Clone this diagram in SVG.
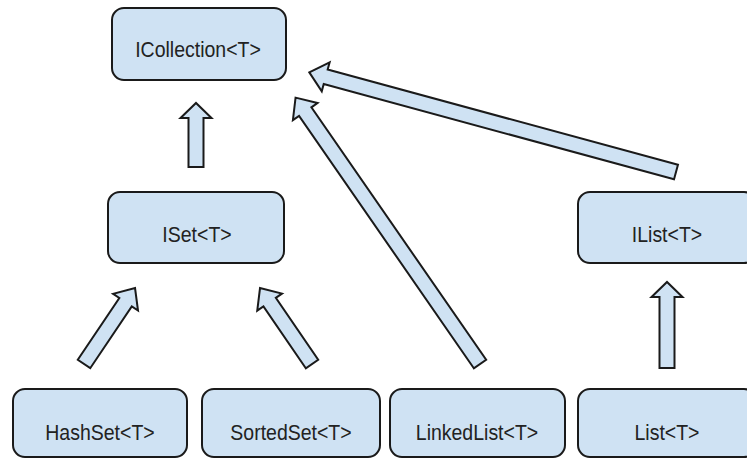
<svg xmlns="http://www.w3.org/2000/svg" width="747" height="460" viewBox="0 0 747 460">
<style>
.box{fill:#cfe2f3;stroke:#1a1a1a;stroke-width:2}
.arr{fill:#cfe2f3;stroke:#1a1a1a;stroke-width:2;stroke-linejoin:miter}
.lbl{font-family:"Liberation Sans",Arial,sans-serif;font-size:19.5px;fill:#222;text-anchor:middle}
</style>
<rect width="747" height="460" fill="#fff"/>
<g id="connectors">
<polygon class="arr" transform="translate(196,167) rotate(-90)" points="0,-7.5 49,-7.5 49,-15.5 64,0 49,15.5 49,7.5 0,7.5"/>
<polygon class="arr" transform="translate(84,364) rotate(-56.1)" points="0,-7.5 74.5,-7.5 74.5,-15 91.5,0 74.5,15 74.5,7.5 0,7.5"/>
<polygon class="arr" transform="translate(312,364) rotate(-124.4)" points="0,-7.5 75,-7.5 75,-15 92,0 75,15 75,7.5 0,7.5"/>
<polygon class="arr" transform="translate(480,364) rotate(-124.7)" points="0,-7.5 307,-7.5 307,-15 324,0 307,15 307,7.5 0,7.5"/>
<polygon class="arr" transform="translate(676,172) rotate(-164.8)" points="0,-7.5 363,-7.5 363,-15 380,0 363,15 363,7.5 0,7.5"/>
<polygon class="arr" transform="translate(667,368) rotate(-90)" points="0,-7.5 71,-7.5 71,-15.5 86,0 71,15.5 71,7.5 0,7.5"/>
</g>
<g id="icollection"><rect class="box" x="112" y="8" width="174" height="72" rx="12"/><text class="lbl" transform="translate(198,57) scale(1,1.12)">ICollection&lt;T&gt;</text></g>
<g id="iset"><rect class="box" x="108" y="192" width="176" height="71" rx="12"/><text class="lbl" transform="translate(197,242) scale(1,1.12)">ISet&lt;T&gt;</text></g>
<g id="ilist"><rect class="box" x="578" y="192" width="178" height="71" rx="12"/><text class="lbl" transform="translate(667,242) scale(1,1.12)">IList&lt;T&gt;</text></g>
<g id="hashset"><rect class="box" x="13" y="389" width="174" height="68" rx="12"/><text class="lbl" transform="translate(100,440) scale(1,1.12)">HashSet&lt;T&gt;</text></g>
<g id="sortedset"><rect class="box" x="202" y="389" width="178" height="68" rx="12"/><text class="lbl" transform="translate(291,440) scale(1,1.12)">SortedSet&lt;T&gt;</text></g>
<g id="linkedlist"><rect class="box" x="390" y="389" width="175" height="68" rx="12"/><text class="lbl" transform="translate(477,440) scale(1,1.12)">LinkedList&lt;T&gt;</text></g>
<g id="list"><rect class="box" x="578" y="389" width="178" height="68" rx="12"/><text class="lbl" transform="translate(667,440) scale(1,1.12)">List&lt;T&gt;</text></g>
</svg>
